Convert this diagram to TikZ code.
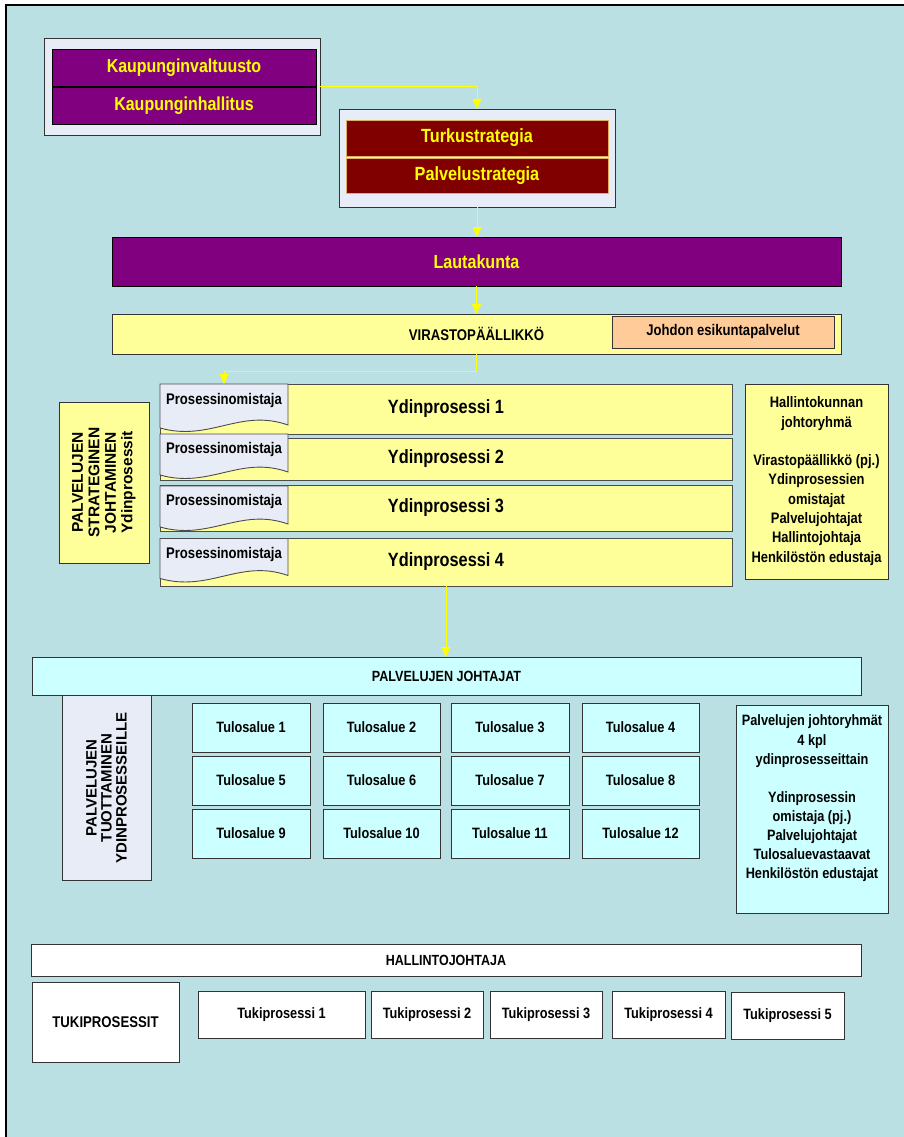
\documentclass[tikz,border=0pt]{standalone}
\usepackage{fontspec}
\setmainfont{Liberation Sans}
\newfontfamily\cond{Liberation Sans}[FakeStretch=0.85]
\usetikzlibrary{arrows.meta}
\definecolor{bgteal}{RGB}{187,224,227}
\definecolor{lav}{RGB}{232,236,246}
\definecolor{purp}{RGB}{128,0,128}
\definecolor{dred}{RGB}{128,0,0}
\definecolor{tanline}{RGB}{222,176,96}
\definecolor{pyel}{RGB}{255,255,153}
\definecolor{pcyan}{RGB}{204,255,255}
\definecolor{peach}{RGB}{255,204,153}
\definecolor{ayel}{RGB}{255,255,0}
\newcommand\fsz[2]{\fontsize{#1}{#2}\selectfont}
\newcommand\mkbox[6]{\node[#1, minimum width={#4-#2}, minimum height={#5-#3}] (#6) at ({(#2+#4)/2},{(#3+#5)/2})}
\newcommand\docshape[2]{\filldraw[docst] (160,#1) -- (288,#1) -- (288,{#1+#2-3}) .. controls (240,{#1+#2-20}) and (210,{#1+#2+14}) .. (160,{#1+#2}) -- cycle;}
\tikzset{
  bx/.style={draw=black!80, line width=0.9pt, inner sep=0pt, outer sep=0pt, align=center},
  lavbox/.style={bx, fill=lav},
  purpbar/.style={bx, draw=black, fill=purp, text=ayel, font=\cond\bfseries\fsz{18.8}{21}},
  redbar/.style={bx, draw=tanline, fill=dred, text=ayel, font=\cond\bfseries\fsz{19.1}{21}},
  ybox/.style={bx, fill=pyel, font=\cond\bfseries\fsz{15.5}{18}},
  pbox/.style={bx, fill=peach, font=\cond\bfseries\fsz{15.4}{18}},
  ydin/.style={bx, draw=black!70, fill=pyel, font=\cond\bfseries\fsz{19.2}{21}},
  docst/.style={draw=black!70, line width=0.9pt, fill=lav},
  doctxt/.style={inner sep=0pt, outer sep=0pt, minimum width=128, font=\cond\bfseries\fsz{15.4}{18}},
  cbox/.style={bx, fill=pcyan, font=\cond\bfseries\fsz{15}{18}},
  wbox/.style={bx, fill=white, font=\cond\bfseries\fsz{15}{18}},
  sidetxt/.style={inner sep=0pt, outer sep=0pt, align=center, font=\cond\bfseries\fsz{15.2}{19.3}},
  arr/.style={draw=ayel, line width=1pt, -{Triangle[width=9pt,length=10pt]}}
}
\begin{document}
\begin{tikzpicture}[x=1pt,y=-1pt]
\useasboundingbox (0,0) rectangle (904,1137);
\fill[white] (0,0) rectangle (904,1137);
\fill[bgteal] (6,5) rectangle (904,1137);
\draw[line width=2.2pt] (6,1137) -- (6,5) -- (904,5);

% top governance
\mkbox{lavbox}{44}{38}{320}{135}{g1} {};
\mkbox{purpbar}{52}{49}{316}{86}{kv} {Kaupunginvaltuusto};
\mkbox{purpbar}{52}{87}{316}{124}{kh} {Kaupunginhallitus};
\mkbox{lavbox}{339}{109}{615}{207}{g2} {};
\mkbox{redbar}{346}{120}{608}{156}{ts} {Turkustrategia};
\mkbox{redbar}{346}{158}{608}{193}{ps} {Palvelustrategia};
\mkbox{purpbar, font=\cond\bfseries\fsz{18.9}{21}}{112}{237}{841}{286}{laut} {Lautakunta};
\mkbox{ybox}{112}{314}{841}{354}{vir} {VIRASTOPÄÄLLIKKÖ};
\mkbox{pbox}{612}{316}{834}{348}{joh} {Johdon esikuntapalvelut};

% core processes
\mkbox{ydin}{160}{384}{732}{434}{y1} {Ydinprosessi 1};
\mkbox{ydin}{160}{438}{732}{480}{y2} {Ydinprosessi 2};
\mkbox{ydin}{160}{485}{732}{531}{y3} {Ydinprosessi 3};
\mkbox{ydin}{160}{538}{732}{586}{y4} {Ydinprosessi 4};
\docshape{384}{44}
\docshape{434}{41}
\docshape{486}{41}
\docshape{538.5}{40}
\node[doctxt, anchor=north, minimum height=34] (d1) at (224,384) {Prosessinomistaja};
\node[doctxt, anchor=north, minimum height=32] (d2) at (224,434) {Prosessinomistaja};
\node[doctxt, anchor=north, minimum height=32] (d3) at (224,486) {Prosessinomistaja};
\node[doctxt, anchor=north, minimum height=33] (d4) at (224,538.5) {Prosessinomistaja};

\node[bx, fill=pyel, rotate=90, minimum width=161, minimum height=90,
      font=\bfseries\fsz{15.5}{16.5}] (pse) at (104,482.5)
      {PALVELUJEN\\STRATEGINEN\\JOHTAMINEN\\Ydinprosessit};

\mkbox{ybox}{745}{384}{888}{579}{hjr} {};
\node[sidetxt] (hjrt) at (816.5,481)
  {Hallintokunnan\\johtoryhmä\\[19.3pt]Virastopäällikkö (pj.)\\Ydinprosessien\\omistajat\\Palvelujohtajat\\Hallintojohtaja\\Henkilöstön edustaja};

% service directors
\mkbox{cbox, font=\cond\bfseries\fsz{14.8}{18}}{32}{657}{861}{695}{pj} {PALVELUJEN JOHTAJAT};
\node[bx, fill=lav, rotate=90, minimum width=185, minimum height=89,
      font=\bfseries\fsz{15}{15}] (pte) at (106.5,788)
      {PALVELUJEN\\TUOTTAMINEN\\YDINPROSESSEILLE};

\mkbox{cbox}{192}{703}{310}{752}{t1} {Tulosalue 1};
\mkbox{cbox}{323}{703}{440}{752}{t2} {Tulosalue 2};
\mkbox{cbox}{451}{703}{569}{752}{t3} {Tulosalue 3};
\mkbox{cbox}{582}{703}{699}{752}{t4} {Tulosalue 4};
\mkbox{cbox}{192}{756}{310}{805}{t5} {Tulosalue 5};
\mkbox{cbox}{323}{756}{440}{805}{t6} {Tulosalue 6};
\mkbox{cbox}{451}{756}{569}{805}{t7} {Tulosalue 7};
\mkbox{cbox}{582}{756}{699}{805}{t8} {Tulosalue 8};
\mkbox{cbox}{192}{809}{310}{858}{t9} {Tulosalue 9};
\mkbox{cbox}{323}{809}{440}{858}{t10} {Tulosalue 10};
\mkbox{cbox}{451}{809}{569}{858}{t11} {Tulosalue 11};
\mkbox{cbox}{582}{809}{699}{858}{t12} {Tulosalue 12};

\mkbox{cbox}{736}{705}{888}{913}{pjr} {};
\node[sidetxt, font=\cond\bfseries\fsz{15}{19.1}] (pjrt) at (812,798.5)
  {Palvelujen johtoryhmät\\4 kpl\\ydinprosesseittain\\[19.1pt]Ydinprosessin\\omistaja (pj.)\\Palvelujohtajat\\Tulosaluevastaavat\\Henkilöstön edustajat};

% support processes
\mkbox{wbox, font=\cond\bfseries\fsz{14.7}{18}}{31}{944}{861}{976}{hj} {HALLINTOJOHTAJA};
\mkbox{wbox, font=\cond\bfseries\fsz{15.5}{18}}{32}{982}{179}{1062}{tuki} {TUKIPROSESSIT};
\mkbox{wbox}{198}{991}{365}{1038}{tp1} {Tukiprosessi 1};
\mkbox{wbox}{371}{991}{483}{1038}{tp2} {Tukiprosessi 2};
\mkbox{wbox}{490}{991}{602}{1038}{tp3} {Tukiprosessi 3};
\mkbox{wbox}{612}{991}{725}{1038}{tp4} {Tukiprosessi 4};
\mkbox{wbox}{731}{992}{844}{1039}{tp5} {Tukiprosessi 5};

% connectors
\draw[arr] (g1.east) -| (g2.north);
\draw[arr] (g2.south) -- (g2.south |- laut.north);
\draw[arr] (laut.south) -- (vir.north);
\draw[arr] (vir.south) -- ++(0,17) -| (d1.north);
\draw[arr] (y4.south) -- (y4.south |- pj.north);
\end{tikzpicture}
\end{document}
